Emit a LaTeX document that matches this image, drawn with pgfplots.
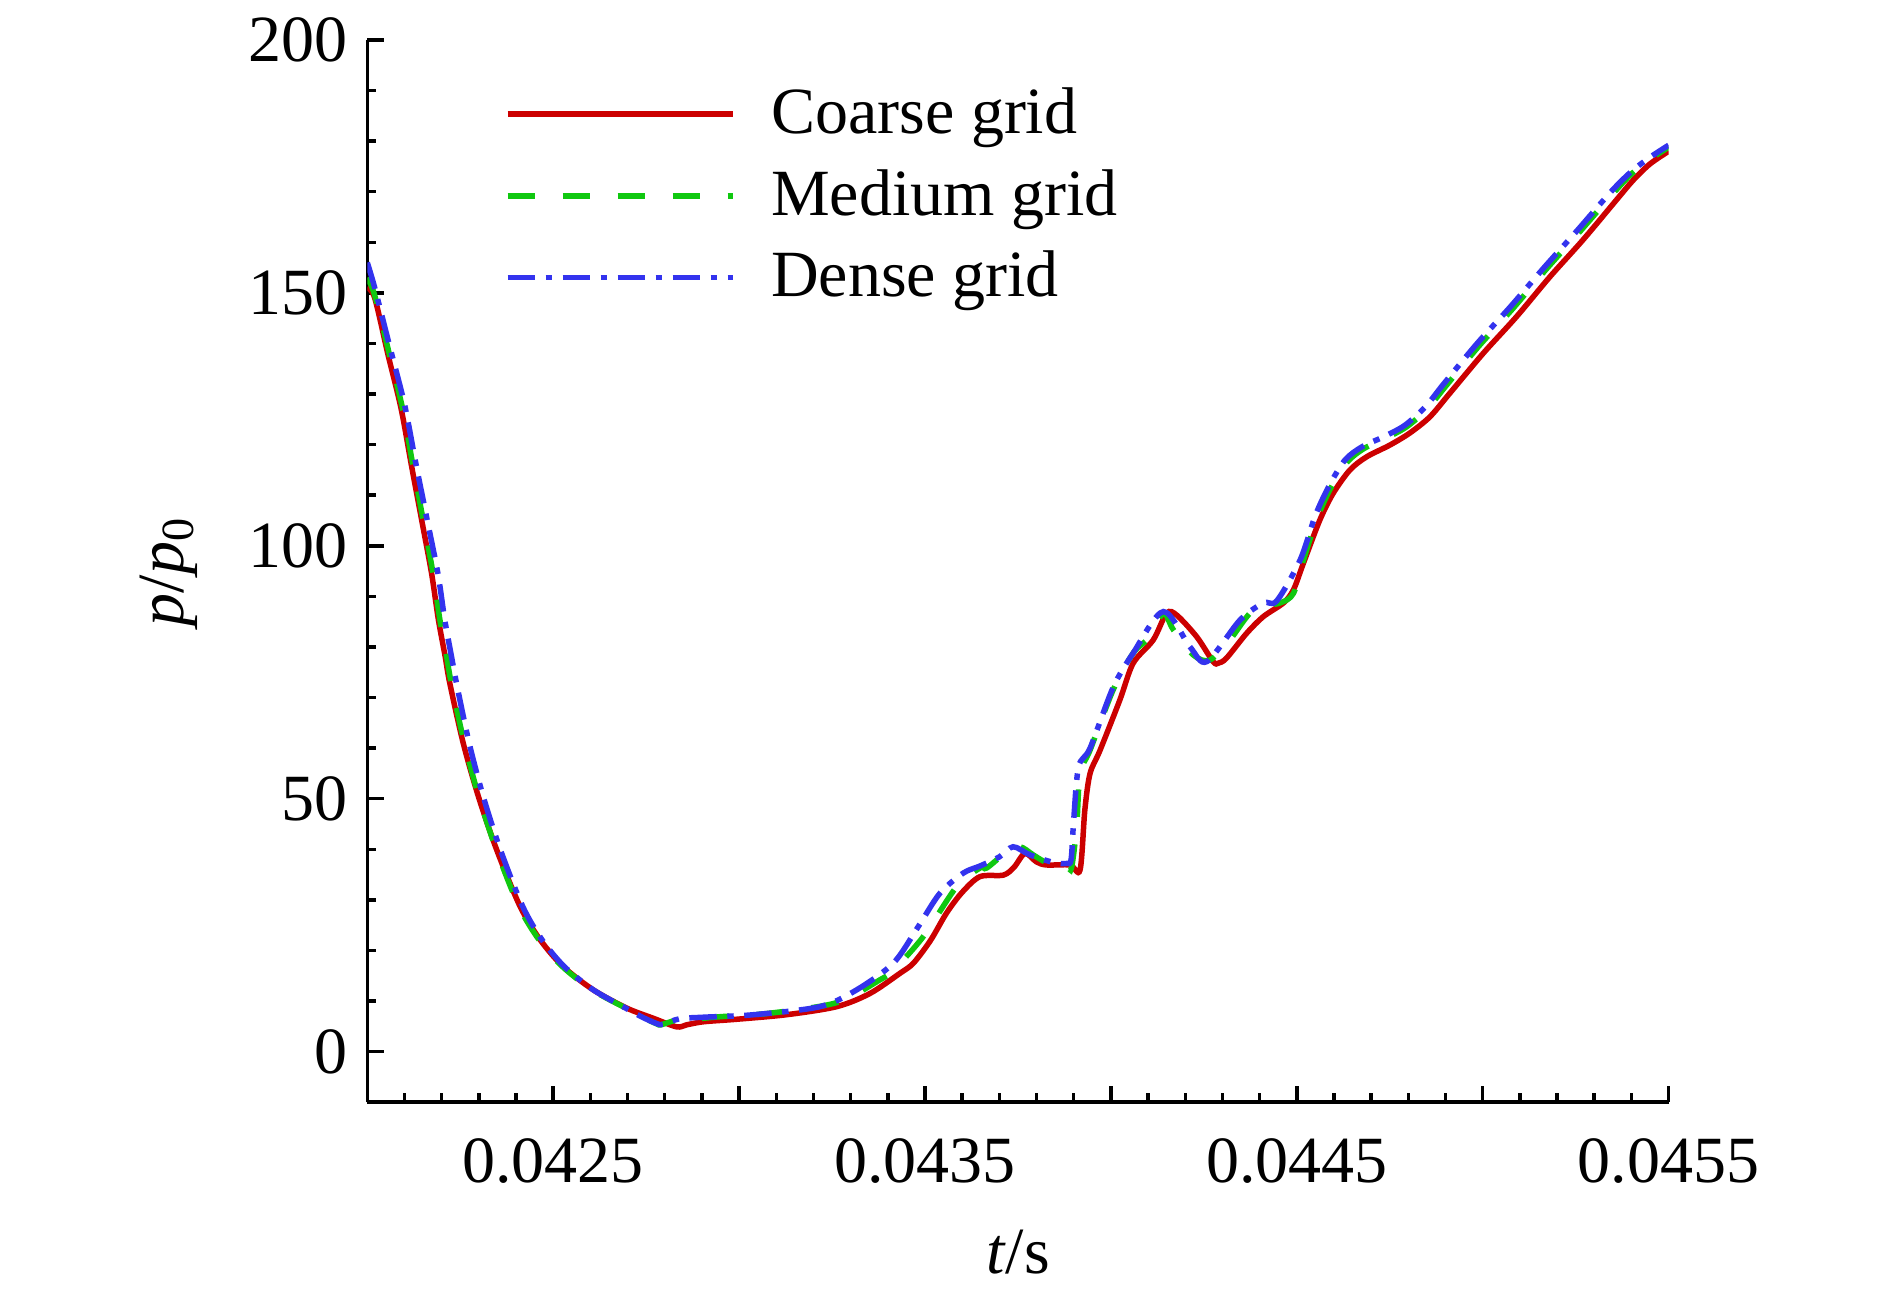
\documentclass[border=0pt]{standalone}
\usepackage{fontspec}
\setmainfont{Liberation Serif}
\usepackage{pgfplots}
\pgfplotsset{compat=1.18}
\definecolor{cred}{RGB}{204,0,0}
\definecolor{cgreen}{RGB}{16,200,16}
\definecolor{cblue}{RGB}{51,51,238}
\newcommand{\myfont}{\fontsize{13.2}{15.8}\selectfont}
\begin{document}
\begin{tikzpicture}
\begin{axis}[
  scale only axis, width=260.26pt, height=212.44pt,
  xmin=0.042, xmax=0.0455, ymin=-10, ymax=200,
  axis x line*=bottom, axis y line*=left,
  axis line style={-, line width=0.7pt, black},
  xtick={0.042,0.0425,0.043,0.0435,0.044,0.0445,0.045,0.0455},
  xticklabels={,0.0425,,0.0435,,0.0445,,0.0455},
  scaled x ticks=false,
  minor x tick num=4,
  ytick={0,50,100,150,200},
  minor y tick num=4,
  tick align=inside,
  major tick length=3.3pt, minor tick length=1.8pt,
  every tick/.style={line width=0.7pt, black},
  tick label style={font=\myfont},
  /pgf/number format/assume math mode=true,
  xticklabel style={anchor=base, yshift=-16pt},
  yticklabel style={xshift=-0.5pt},
  xlabel={\textit{t}/s},
  ylabel={\textit{p}/\textit{p}\textsubscript{0}},
  label style={font=\myfont},
  xlabel style={at={(axis description cs:0.5,-0.1615)}, anchor=base},
  ylabel style={at={(axis description cs:-0.1529,0.5)}, anchor=center},
  legend style={at={(axis description cs:0,1)}, anchor=north west,
    xshift=27.5pt, yshift=-9.5pt, draw=none, fill=none,
    inner sep=0pt, outer sep=0pt, row sep=5.7pt, column sep=7.2pt,
    nodes={inner sep=0pt}, font=\myfont},
  legend cell align=left,
  legend image code/.code={\draw[#1] (0pt,0pt) -- (45pt,0pt);},
]
\addplot[cred, line width=1.1pt, smooth, tension=0.5] table {
0.042000 151
0.042020 149
0.042056 137.7
0.042091 127.1
0.042119 115.8
0.042146 105.2
0.042173 94.5
0.042191 85.5
0.042209 78.3
0.042222 72.8
0.042258 61.0
0.042299 50.4
0.042348 39.9
0.042411 28.7
0.042465 22.1
0.042527 16.8
0.042608 12.2
0.042698 8.6
0.042769 6.6
0.042832 4.9
0.042859 5.3
0.042904 5.9
0.042994 6.4
0.043128 7.3
0.043263 8.9
0.043352 11.5
0.043433 15.5
0.043469 17.5
0.043515 22.0
0.043558 27.4
0.043600 31.5
0.043648 34.6
0.043711 34.9
0.043740 36.5
0.043769 39.2
0.043800 37.5
0.043827 36.9
0.043890 36.9
0.043917 35.9
0.043930 47.8
0.043944 55.0
0.043971 59.6
0.044024 69.5
0.044060 76.8
0.044114 81.4
0.044150 86.7
0.044177 86.3
0.044231 82.0
0.044275 77.1
0.044289 76.8
0.044311 77.8
0.044365 82.7
0.044410 86.0
0.044464 88.7
0.044491 91.3
0.044518 96.6
0.044562 105.1
0.044598 110.4
0.044643 115.0
0.044688 117.6
0.044750 119.9
0.044804 122.3
0.044858 125.5
0.044912 130.2
0.045002 138.1
0.045091 145.3
0.045181 153.2
0.045270 160.5
0.045360 168.4
0.045405 172.3
0.045450 175.5
0.045500 178.0
};
\addlegendentry{Coarse grid}
\addplot[cgreen, line width=1.1pt, dash pattern=on 5.5pt off 5.5pt, smooth, tension=0.5] table {
0.042000 153
0.042020 149.5
0.042060 137.7
0.042095 127.1
0.042123 115.8
0.042150 105.2
0.042177 94.5
0.042195 85.5
0.042213 78.3
0.042226 72.8
0.042261 61.0
0.042300 50.4
0.042347 39.9
0.042408 28.7
0.042462 22.1
0.042525 16.8
0.042605 12.2
0.042695 8.6
0.042740 6.8
0.042778 5.5
0.042790 5.3
0.042830 6.2
0.042877 6.4
0.042949 6.9
0.043083 7.6
0.043263 9.7
0.043379 14.2
0.043415 16.1
0.043495 22.7
0.043585 32.6
0.043648 36.3
0.043666 36.3
0.043720 39.5
0.043756 40.5
0.043791 38.9
0.043827 37.4
0.043881 36.6
0.043894 36.3
0.043908 44.5
0.043917 55.0
0.043944 59.6
0.044006 71.5
0.044060 78.8
0.044105 82.0
0.044141 86.7
0.044168 83.4
0.044222 78.4
0.044266 77.4
0.044320 81.4
0.044383 87.3
0.044455 88.7
0.044491 90.6
0.044518 97.2
0.044555 105.5
0.044592 111.5
0.044635 116.5
0.044680 119.2
0.044740 121.3
0.044795 123.5
0.044850 127.0
0.044900 131.5
0.044990 139.5
0.045080 146.8
0.045170 154.6
0.045260 162.0
0.045350 169.6
0.045400 173.5
0.045450 176.4
0.045500 178.8
};
\addlegendentry{Medium grid}
\addplot[cblue, line width=1.1pt, dash pattern=on 5.5pt off 2.1pt on 1.3pt off 2.1pt, smooth, tension=0.5] table {
0.042000 156
0.042020 151
0.042060 139.5
0.042100 128
0.042130 116.5
0.042160 105.5
0.042190 94.5
0.042208 85.5
0.042226 78.3
0.042240 72.8
0.042274 61.0
0.042312 50.4
0.042358 39.9
0.042418 28.7
0.042470 22.1
0.042530 16.8
0.042608 12.2
0.042695 8.6
0.042740 6.8
0.042780 5.5
0.042795 5.4
0.042840 6.5
0.042904 6.8
0.043040 7.3
0.043218 8.9
0.043316 12.2
0.043415 17.5
0.043480 24.5
0.043540 31.3
0.043603 35.3
0.043648 36.7
0.043700 38.5
0.043737 40.5
0.043782 38.9
0.043845 37.4
0.043881 37.2
0.043893 38.0
0.043900 45.8
0.043913 56.3
0.043944 60.0
0.044006 72.0
0.044060 78.8
0.044141 87.0
0.044213 80.0
0.044258 77.1
0.044347 85.3
0.044410 88.7
0.044446 89.1
0.044509 97.2
0.044550 106.0
0.044588 112.0
0.044630 117.0
0.044676 119.6
0.044735 121.6
0.044790 123.8
0.044845 127.4
0.044895 132.0
0.044985 140.0
0.045075 147.3
0.045165 155.0
0.045255 162.4
0.045345 170.0
0.045400 174.0
0.045450 176.8
0.045500 179.2
};
\addlegendentry{Dense grid}
\end{axis}
\pgfresetboundingbox
\path (-73.46pt,-39.36pt) rectangle (304.54pt,220.44pt);
\end{tikzpicture}
\end{document}
